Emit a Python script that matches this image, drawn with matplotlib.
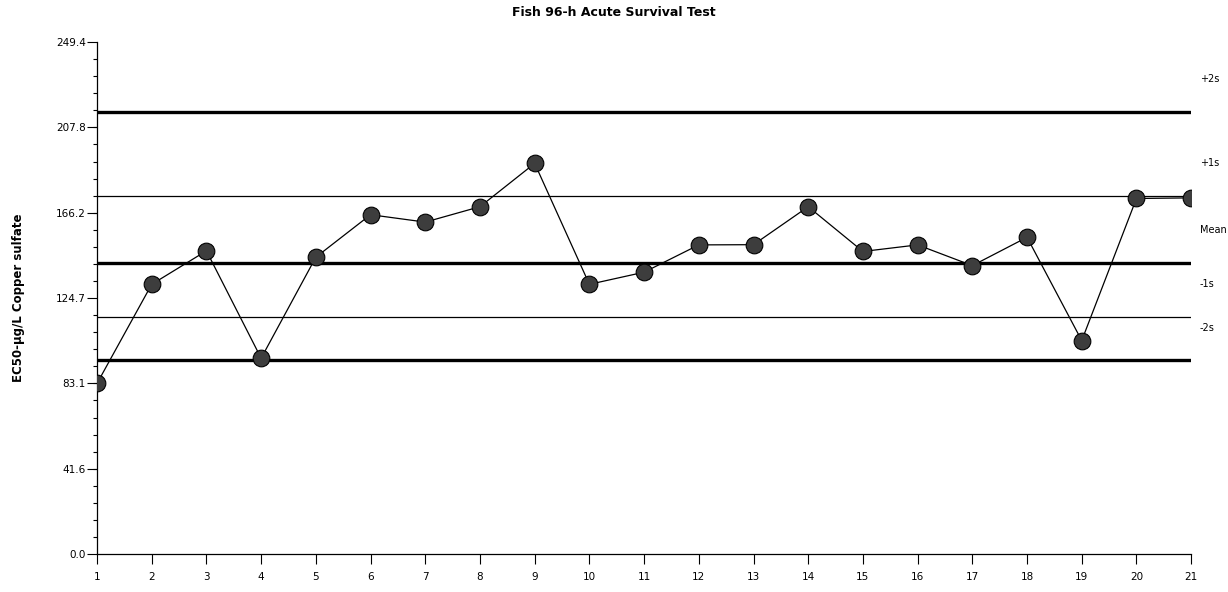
import matplotlib
matplotlib.use("Agg")
import matplotlib.pyplot as plt
from matplotlib.ticker import MultipleLocator

# data
runs = list(range(1, 22))
ec50 = [83.1, 131.4, 147.7, 95.4, 144.6, 165.3, 161.7, 169.2, 190.3, 131.4, 137.3,
        150.6, 150.7, 169.2, 147.4, 150.6, 140.5, 154.3, 104.0, 173.2, 173.5]

limit_names = ["+2s", "+1s", "Mean", "-1s", "-2s"]
limit_values = [215.3, 174.5, 141.9, 115.7, 94.3]
limit_widths = [2.4, 0.9, 2.4, 0.9, 2.4]

y_ticks = [0.0, 41.6, 83.1, 124.7, 166.2, 207.8, 249.4]
Y_MAX = 249.4

fig = plt.figure(figsize=(12.28, 5.92), dpi=100)
ax = fig.add_axes([0.079, 0.064, 0.891, 0.865])

for val, lw in zip(limit_values, limit_widths):
    ax.plot([runs[0], runs[-1]], [val, val], color="black", linewidth=lw, zorder=2)

ax.plot(runs, ec50, color="black", linewidth=0.9, zorder=3)
ax.plot(runs, ec50, linestyle="none", marker="o", markersize=12,
        markerfacecolor="#3d3d3d", markeredgecolor="black", markeredgewidth=0.8, zorder=4)

for name, val in zip(limit_names, limit_values):
    ax.text(21.16, val + 16, name, fontsize=7, ha="left", va="center", clip_on=False)

ax.set_xlim(1, 21)
ax.set_ylim(0, Y_MAX)
ax.set_xticks(runs)
ax.set_yticks(y_ticks)
ax.set_yticklabels([f"{t:.1f}" for t in y_ticks])
ax.yaxis.set_minor_locator(MultipleLocator(Y_MAX / 30))
ax.tick_params(axis="both", labelsize=7.5, direction="out", width=0.8)
ax.tick_params(axis="y", which="major", length=7, pad=1)
ax.tick_params(axis="y", which="minor", length=3, width=0.8)
ax.tick_params(axis="x", which="major", length=7, pad=6)

for side in ["top", "right"]:
    ax.spines[side].set_visible(False)
for side in ["left", "bottom"]:
    ax.spines[side].set_linewidth(0.9)

ax.set_ylabel("EC50-µg/L Copper sulfate", fontsize=8.5, fontweight="bold")
ax.yaxis.set_label_coords(-0.066, 0.5)
fig.suptitle("Fish 96-h Acute Survival Test", fontsize=9, fontweight="bold", y=0.99)

fig.savefig("out.png", dpi=100)
